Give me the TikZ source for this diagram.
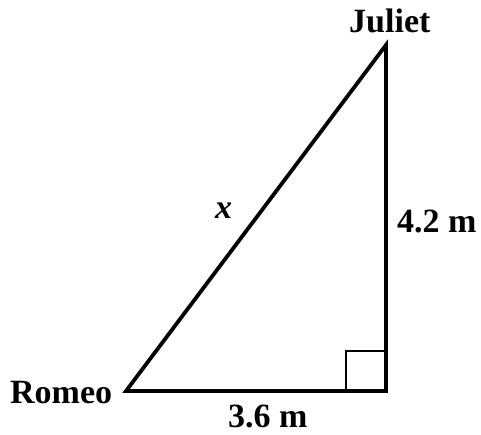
\documentclass[tikz,border=0pt]{standalone}
\usepackage{fontspec}
\setmainfont{Liberation Serif}
\usetikzlibrary{positioning}
\tikzset{
  leg/.style={line width=3.8pt, line join=miter, draw=black},
  marklbl/.style={font=\fontsize{34}{40}\selectfont\bfseries, text=black, inner sep=0pt, anchor=base west},
  cornerbox/.style={line width=1.3pt, draw=black}
}
\begin{document}
\begin{tikzpicture}[x=1pt, y=1pt]
      \useasboundingbox (0,0) rectangle (481,434);
      \coordinate (romeo) at (126,43);
      \coordinate (corner) at (386,43);
      \coordinate (juliet) at (386,389);
      \draw[cornerbox] (346,43) rectangle (386,83);
      \draw[leg] (romeo) -- (corner) -- (juliet) -- cycle;
      \node[marklbl] (rlbl) at (10,31) {Romeo};
      \node[marklbl] (jlbl) at (349,401) {Juliet};
      \node[marklbl] (blbl) at (228,6.5) {3.6 m};
      \node[marklbl] (slbl) at (397,202) {4.2 m};
      \node[marklbl] (hlbl) at (215,215) {\itshape x};
    \end{tikzpicture}
\end{document}
